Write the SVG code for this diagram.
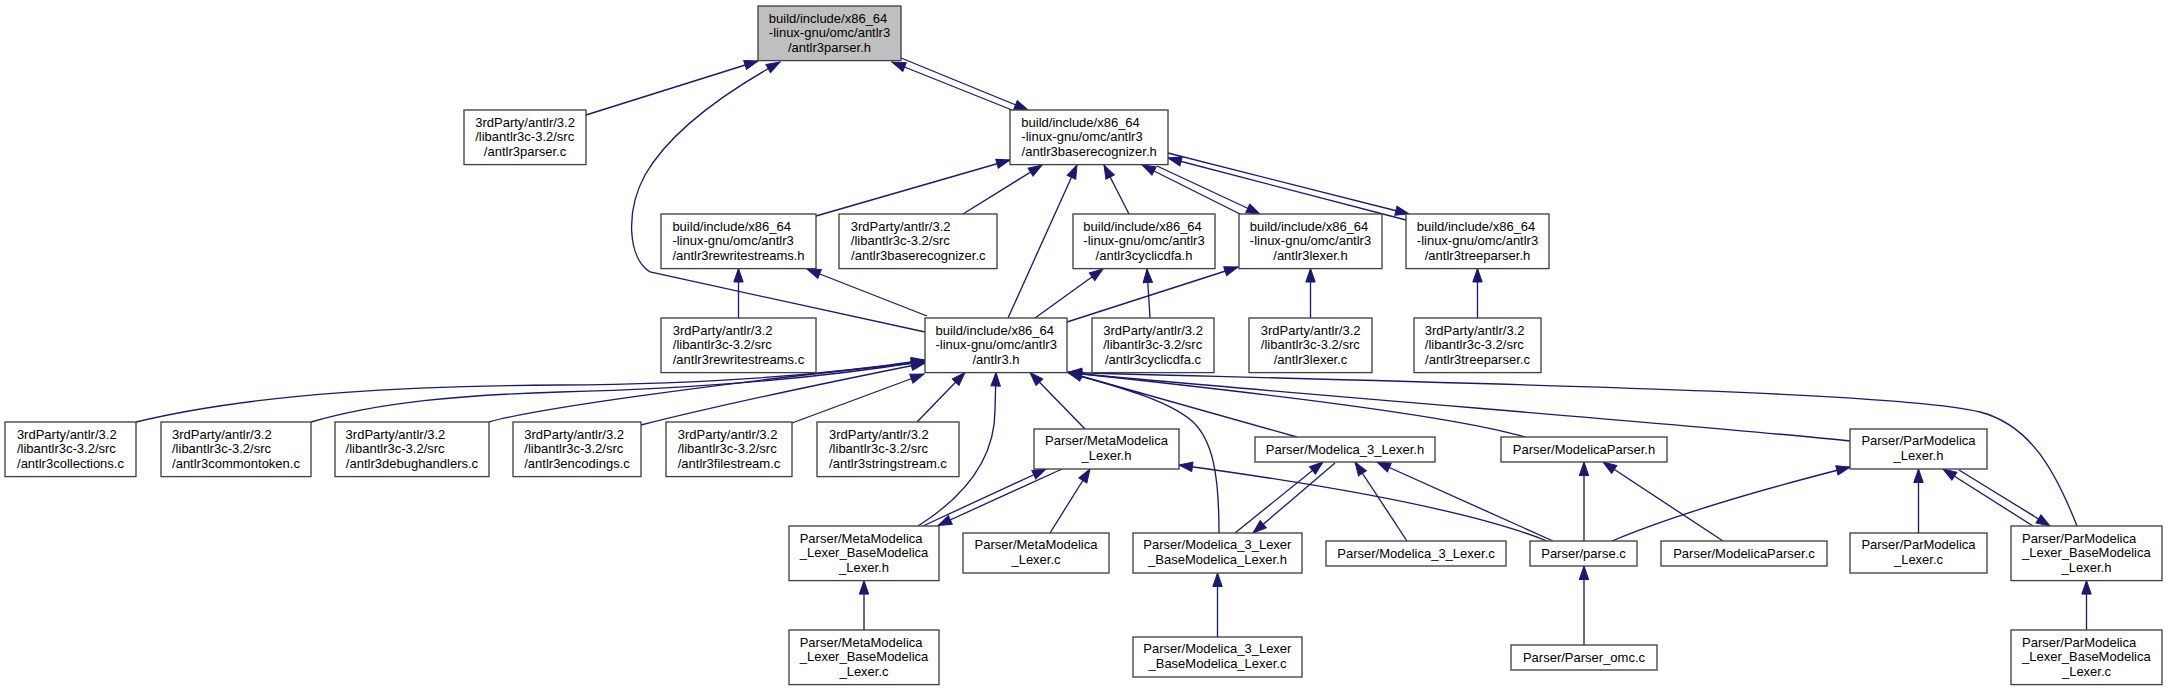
<svg xmlns="http://www.w3.org/2000/svg" width="2167" height="691" viewBox="0 0 2167 691">
<style>
.node rect{fill:#ffffff;stroke:#404040;stroke-width:1.33}
.node rect.hl{fill:#bfbfbf}
.node text{font-family:"Liberation Sans",Arial,Helvetica,sans-serif;font-size:13px;fill:#000000}
.node text.c{text-anchor:middle}
.edges path{fill:none;stroke:#191970;stroke-width:1.33;marker-end:url(#arr)}
</style>
<defs>
<marker id="arr" markerUnits="userSpaceOnUse" markerWidth="14" markerHeight="10" viewBox="0 0 14 10" refX="13.5" refY="5" orient="auto" overflow="visible">
<path d="M0,0.3 L13.5,5 L0,9.7 z" fill="#191970" stroke="#191970" stroke-width="1"/>
</marker>
</defs>
<rect width="2167" height="691" fill="#ffffff"/>
<g class="edges">
<path d="M586,115 L758,61"/>
<path d="M925,332 L650,272 C628,258 625,212 645,175 C668,135 715,98 780,62"/>
<path d="M901,58 L1028,110"/>
<path d="M1012,110 L892,62"/>
<path d="M816,216 L1010,160"/>
<path d="M963,214 L1042,165"/>
<path d="M1008,318 L1077,165"/>
<path d="M1129,214 L1104,165"/>
<path d="M1240,214 L1142,165"/>
<path d="M1157,166 L1260,214"/>
<path d="M1168,153 L1409,214"/>
<path d="M1406,220 L1168,158"/>
<path d="M738.5,318 L738.5,268.5"/>
<path d="M927,316 L807,269"/>
<path d="M1035,318 L1103,269"/>
<path d="M1150,318 L1147,269"/>
<path d="M1067,322 L1238,267"/>
<path d="M1310.5,318 L1310.5,268.5"/>
<path d="M1477.5,318 L1477.5,268.5"/>
<path d="M136,422 C260,392 420,386 560,385 C720,384 840,373 925,360"/>
<path d="M311,422 C380,402 460,395 560,392 C720,388 840,375 925,361"/>
<path d="M489,422 C530,410 700,385 925,362"/>
<path d="M641,425 C700,410 820,384 925,363"/>
<path d="M792,423 L924,374"/>
<path d="M917,422 L965,372.5"/>
<path d="M918,526 C975,490 995,450 995,410 L996,372.5"/>
<path d="M1085,429 L1030,372.5"/>
<path d="M1297,437 L1068,372.5"/>
<path d="M1525,437 C1450,415 1250,392 1068,372.5"/>
<path d="M1850,441 C1700,425 1300,395 1068,372.5"/>
<path d="M2077,526 C2055,470 2030,425 1980,412 C1900,392 1500,384 1068,372.5"/>
<path d="M1219,533 C1219,475 1213,440 1192,421 C1165,398 1110,385 1068,372.5"/>
<path d="M923,526 L1046,469"/>
<path d="M1062,469 L938,525.5"/>
<path d="M1050,533 L1090,469"/>
<path d="M1547,541 C1500,522 1400,495 1179,465"/>
<path d="M1235,533 L1323,462"/>
<path d="M1335,463 L1253,533"/>
<path d="M1407,541 L1355,462"/>
<path d="M1553,541 L1377,462"/>
<path d="M1584,541 L1584,462"/>
<path d="M1723,541 L1603,462"/>
<path d="M1612,541 C1650,525 1720,500 1850,467"/>
<path d="M1918.5,533 L1918.5,469"/>
<path d="M2033,526 L1943,469"/>
<path d="M1959,470 L2050,526"/>
<path d="M2086.5,630 L2086.5,580.6"/>
<path d="M864,630 L864,580.6"/>
<path d="M1217.5,637 L1217.5,573"/>
<path d="M1584,645 L1584,566"/>
</g>
<g id="n1" class="node"><rect class="hl" x="758" y="6" width="143" height="54.6"/><text x="768.8" y="22.5">build/include/x86_64</text><text x="768.8" y="37">-linux-gnu/omc/antlr3</text><text class="c" x="829.5" y="51.5">/antlr3parser.h</text></g>
<g id="n2" class="node"><rect x="464" y="110" width="122" height="54.6"/><text x="475.2" y="126.5">3rdParty/antlr/3.2</text><text x="475.2" y="141">/libantlr3c-3.2/src</text><text class="c" x="525" y="155.5">/antlr3parser.c</text></g>
<g id="n3" class="node"><rect x="1010" y="110" width="158" height="54.6"/><text x="1021.3" y="126.5">build/include/x86_64</text><text x="1021.3" y="141">-linux-gnu/omc/antlr3</text><text class="c" x="1089.2" y="155.5">/antlr3baserecognizer.h</text></g>
<g id="n4" class="node"><rect x="661" y="214" width="155" height="54.6"/><text x="672.4" y="230.5">build/include/x86_64</text><text x="672.4" y="245">-linux-gnu/omc/antlr3</text><text class="c" x="738.5" y="259.5">/antlr3rewritestreams.h</text></g>
<g id="n5" class="node"><rect x="839" y="214" width="158" height="54.6"/><text x="850.8" y="230.5">3rdParty/antlr/3.2</text><text x="850.8" y="245">/libantlr3c-3.2/src</text><text class="c" x="918.3" y="259.5">/antlr3baserecognizer.c</text></g>
<g id="n6" class="node"><rect x="1073" y="214" width="142" height="54.6"/><text x="1083.3" y="230.5">build/include/x86_64</text><text x="1083.3" y="245">-linux-gnu/omc/antlr3</text><text class="c" x="1144" y="259.5">/antlr3cyclicdfa.h</text></g>
<g id="n7" class="node"><rect x="1239" y="214" width="143" height="54.6"/><text x="1249.8" y="230.5">build/include/x86_64</text><text x="1249.8" y="245">-linux-gnu/omc/antlr3</text><text class="c" x="1310.5" y="259.5">/antlr3lexer.h</text></g>
<g id="n8" class="node"><rect x="1406" y="214" width="143" height="54.6"/><text x="1416.8" y="230.5">build/include/x86_64</text><text x="1416.8" y="245">-linux-gnu/omc/antlr3</text><text class="c" x="1477.5" y="259.5">/antlr3treeparser.h</text></g>
<g id="n9" class="node"><rect x="661" y="318" width="155" height="54.6"/><text x="672.8" y="334.5">3rdParty/antlr/3.2</text><text x="672.8" y="349">/libantlr3c-3.2/src</text><text class="c" x="738.5" y="363.5">/antlr3rewritestreams.c</text></g>
<g id="n10" class="node"><rect x="925" y="318" width="142" height="54.6"/><text x="935.5" y="334.5">build/include/x86_64</text><text x="935.5" y="349">-linux-gnu/omc/antlr3</text><text class="c" x="996" y="363.5">/antlr3.h</text></g>
<g id="n11" class="node"><rect x="1092" y="318" width="122" height="54.6"/><text x="1103.2" y="334.5">3rdParty/antlr/3.2</text><text x="1103.2" y="349">/libantlr3c-3.2/src</text><text class="c" x="1153" y="363.5">/antlr3cyclicdfa.c</text></g>
<g id="n12" class="node"><rect x="1249" y="318" width="123" height="54.6"/><text x="1260.8" y="334.5">3rdParty/antlr/3.2</text><text x="1260.8" y="349">/libantlr3c-3.2/src</text><text class="c" x="1310.5" y="363.5">/antlr3lexer.c</text></g>
<g id="n13" class="node"><rect x="1414" y="318" width="127" height="54.6"/><text x="1424.8" y="334.5">3rdParty/antlr/3.2</text><text x="1424.8" y="349">/libantlr3c-3.2/src</text><text class="c" x="1477.5" y="363.5">/antlr3treeparser.c</text></g>
<g id="n14" class="node"><rect x="5" y="422" width="131" height="54.6"/><text x="16.9" y="438.5">3rdParty/antlr/3.2</text><text x="16.9" y="453">/libantlr3c-3.2/src</text><text class="c" x="70.5" y="467.5">/antlr3collections.c</text></g>
<g id="n15" class="node"><rect x="161" y="422" width="150" height="54.6"/><text x="172" y="438.5">3rdParty/antlr/3.2</text><text x="172" y="453">/libantlr3c-3.2/src</text><text class="c" x="236" y="467.5">/antlr3commontoken.c</text></g>
<g id="n16" class="node"><rect x="335" y="422" width="154" height="54.6"/><text x="345.6" y="438.5">3rdParty/antlr/3.2</text><text x="345.6" y="453">/libantlr3c-3.2/src</text><text class="c" x="412" y="467.5">/antlr3debughandlers.c</text></g>
<g id="n17" class="node"><rect x="513" y="422" width="128" height="54.6"/><text x="524.3" y="438.5">3rdParty/antlr/3.2</text><text x="524.3" y="453">/libantlr3c-3.2/src</text><text class="c" x="577" y="467.5">/antlr3encodings.c</text></g>
<g id="n18" class="node"><rect x="666" y="422" width="126" height="54.6"/><text x="677.7" y="438.5">3rdParty/antlr/3.2</text><text x="677.7" y="453">/libantlr3c-3.2/src</text><text class="c" x="729" y="467.5">/antlr3filestream.c</text></g>
<g id="n19" class="node"><rect x="817" y="422" width="142" height="54.6"/><text x="829" y="438.5">3rdParty/antlr/3.2</text><text x="829" y="453">/libantlr3c-3.2/src</text><text class="c" x="888" y="467.5">/antlr3stringstream.c</text></g>
<g id="n20" class="node"><rect x="1034" y="429" width="145" height="40"/><text x="1045.1" y="445">Parser/MetaModelica</text><text class="c" x="1106.5" y="459.5">_Lexer.h</text></g>
<g id="n21" class="node"><rect x="1255" y="437" width="180" height="25"/><text class="c" x="1345" y="453.5">Parser/Modelica_3_Lexer.h</text></g>
<g id="n22" class="node"><rect x="1501" y="437" width="166" height="25"/><text class="c" x="1584" y="453.5">Parser/ModelicaParser.h</text></g>
<g id="n23" class="node"><rect x="1850" y="429" width="137" height="40"/><text x="1861.4" y="445">Parser/ParModelica</text><text class="c" x="1918.5" y="459.5">_Lexer.h</text></g>
<g id="n24" class="node"><rect x="789" y="526" width="150" height="54.6"/><text x="799.7" y="542.5">Parser/MetaModelica</text><text x="799.7" y="557">_Lexer_BaseModelica</text><text class="c" x="864" y="571.5">_Lexer.h</text></g>
<g id="n25" class="node"><rect x="963" y="533" width="146" height="40"/><text x="974.6" y="549">Parser/MetaModelica</text><text class="c" x="1036" y="563.5">_Lexer.c</text></g>
<g id="n26" class="node"><rect x="1133" y="533" width="169" height="40"/><text x="1143.3" y="549">Parser/Modelica_3_Lexer</text><text class="c" x="1217.5" y="563.5">_BaseModelica_Lexer.h</text></g>
<g id="n27" class="node"><rect x="1326" y="541" width="180" height="25"/><text class="c" x="1416" y="557.5">Parser/Modelica_3_Lexer.c</text></g>
<g id="n28" class="node"><rect x="1530" y="541" width="107" height="25"/><text class="c" x="1583.5" y="557.5">Parser/parse.c</text></g>
<g id="n29" class="node"><rect x="1661" y="541" width="166" height="25"/><text class="c" x="1744" y="557.5">Parser/ModelicaParser.c</text></g>
<g id="n30" class="node"><rect x="1850" y="533" width="137" height="40"/><text x="1861.4" y="549">Parser/ParModelica</text><text class="c" x="1918.5" y="563.5">_Lexer.c</text></g>
<g id="n31" class="node"><rect x="2011" y="526" width="151" height="54.6"/><text x="2022" y="542.5">Parser/ParModelica</text><text x="2022" y="557">_Lexer_BaseModelica</text><text class="c" x="2086.5" y="571.5">_Lexer.h</text></g>
<g id="n32" class="node"><rect x="789" y="630" width="150" height="54.6"/><text x="799.7" y="646.5">Parser/MetaModelica</text><text x="799.7" y="661">_Lexer_BaseModelica</text><text class="c" x="864" y="675.5">_Lexer.c</text></g>
<g id="n33" class="node"><rect x="1133" y="637" width="169" height="40"/><text x="1143.3" y="653">Parser/Modelica_3_Lexer</text><text class="c" x="1217.5" y="667.5">_BaseModelica_Lexer.c</text></g>
<g id="n34" class="node"><rect x="1511" y="645" width="146" height="25"/><text class="c" x="1584" y="661.5">Parser/Parser_omc.c</text></g>
<g id="n35" class="node"><rect x="2011" y="630" width="151" height="54.6"/><text x="2022" y="646.5">Parser/ParModelica</text><text x="2022" y="661">_Lexer_BaseModelica</text><text class="c" x="2086.5" y="675.5">_Lexer.c</text></g>
</svg>
